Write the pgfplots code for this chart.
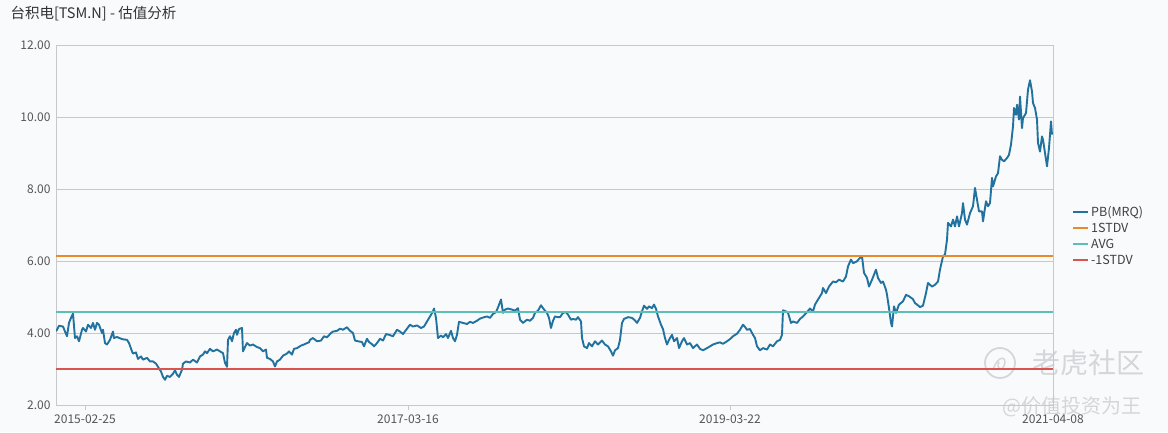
\documentclass[border=0pt]{standalone}
\usepackage{pgfplots}
\pgfplotsset{compat=1.18}
\usepackage{pgfplotstable}
\usepackage{fontspec}
\setmainfont{Noto Sans CJK SC}
\definecolor{bgc}{HTML}{F9FAFC}
\definecolor{pbc}{HTML}{21729E}
\definecolor{sdc}{HTML}{E8892C}
\definecolor{avc}{HTML}{5BBEB7}
\definecolor{msc}{HTML}{D9534F}
\definecolor{gridc}{HTML}{C8C8CC}
\definecolor{txtc}{HTML}{555555}
\definecolor{wmc}{HTML}{D4D6DA}
\pgfplotstableread{
x v
0 4.05
1 4.09
3 4.20
7 4.18
9 4.04
11 3.91
13 4.28
15 4.42
17 4.54
19 3.86
21 3.91
23 3.77
26 4.09
27 4.14
30 4.04
32 4.23
35 4.14
37 4.28
39 4.09
41 4.28
43 4.23
46 4.00
47 4.09
49 3.72
51 3.68
54 3.81
57 4.04
58 3.86
61 3.89
66 3.83
71 3.81
73 3.72
76 3.49
77 3.43
80 3.46
82 3.28
85 3.35
87 3.26
91 3.31
94 3.21
97 3.21
100 3.15
102 3.06
105 2.93
107 2.78
109 2.70
111 2.81
114 2.78
117 2.87
119 2.96
121 2.84
123 2.78
126 2.98
127 3.15
130 3.21
134 3.18
137 3.26
141 3.18
144 3.35
147 3.40
149 3.49
151 3.44
154 3.56
157 3.49
161 3.54
164 3.49
167 3.44
169 3.17
171 3.06
172 3.81
174 3.91
176 3.77
178 4.00
180 4.09
181 3.95
183 4.11
186 4.14
187 3.49
189 3.61
191 3.72
194 3.65
197 3.68
201 3.61
204 3.58
207 3.49
210 3.54
211 3.31
214 3.28
217 3.21
219 3.07
221 3.21
224 3.26
227 3.37
231 3.43
233 3.49
236 3.40
238 3.56
241 3.58
245 3.65
248 3.68
251 3.72
253 3.74
254 3.81
257 3.86
261 3.77
265 3.79
268 3.91
271 3.88
275 4.00
277 4.04
281 4.06
284 4.12
287 4.09
291 4.16
294 4.06
297 4.00
299 3.79
302 3.77
306 3.75
308 3.63
311 3.84
313 3.75
316 3.69
318 3.63
321 3.72
324 3.84
327 3.79
330 3.97
333 3.95
337 3.91
341 4.09
344 4.04
347 3.97
351 4.12
354 4.23
357 4.18
361 4.21
365 4.14
368 4.18
371 4.32
374 4.46
377 4.60
378 4.68
380 4.42
381 4.14
382 3.86
385 3.93
387 3.88
390 3.97
392 3.86
395 4.06
397 3.86
399 3.77
401 3.95
403 4.31
407 4.28
411 4.25
414 4.31
417 4.28
421 4.34
424 4.40
427 4.43
431 4.46
434 4.42
437 4.53
440 4.58
442 4.71
445 4.93
447 4.56
449 4.65
452 4.68
456 4.65
459 4.62
462 4.69
464 4.37
467 4.28
471 4.37
474 4.34
477 4.42
479 4.56
482 4.62
485 4.77
487 4.69
489 4.62
491 4.56
493 4.42
495 4.14
497 4.34
499 4.46
502 4.44
504 4.44
507 4.56
510 4.58
512 4.51
515 4.37
517 4.39
520 4.37
522 4.44
525 4.32
526 3.86
528 3.63
531 3.58
533 3.72
536 3.63
539 3.77
542 3.68
546 3.79
549 3.68
552 3.63
555 3.49
557 3.37
559 3.52
562 3.58
564 3.81
566 4.28
568 4.39
572 4.44
576 4.42
579 4.35
581 4.28
584 4.42
586 4.60
588 4.76
591 4.67
593 4.74
596 4.69
598 4.79
600 4.67
602 4.46
605 4.23
607 4.11
609 3.86
611 3.68
613 3.81
616 3.95
618 3.77
621 3.86
623 3.58
626 3.77
628 3.86
631 3.68
634 3.72
637 3.58
641 3.68
644 3.56
647 3.52
651 3.58
654 3.63
657 3.68
661 3.72
664 3.74
667 3.70
671 3.77
674 3.83
677 3.91
681 3.98
684 4.09
687 4.23
689 4.17
691 4.09
694 4.11
697 3.95
699 3.86
701 3.63
704 3.52
707 3.58
711 3.54
714 3.68
717 3.63
721 3.77
724 3.81
726 3.95
727 4.63
730 4.60
732 4.56
735 4.28
737 4.32
741 4.28
744 4.39
747 4.46
751 4.58
754 4.68
757 4.60
759 4.79
762 4.93
766 5.11
767 5.25
770 5.11
773 5.29
777 5.43
780 5.41
783 5.48
787 5.43
790 5.57
792 5.85
795 6.04
797 5.94
801 5.99
803 6.06
806 6.13
808 5.67
811 5.53
813 5.29
816 5.48
818 5.62
820 5.76
822 5.53
825 5.39
827 5.43
830 5.20
831 5.06
833 4.69
835 4.28
836 4.18
838 4.74
840 4.56
843 4.79
847 4.88
850 5.06
853 5.02
857 4.94
859 4.83
861 4.79
864 4.72
867 4.76
870 5.11
872 5.39
876 5.29
879 5.34
882 5.43
884 5.76
887 6.13
889 6.18
891 6.59
892 7.06
895 6.96
897 7.15
899 6.96
901 7.24
903 6.96
906 7.33
907 7.61
909 7.15
911 7.01
914 7.33
917 7.52
919 8.03
921 7.70
923 7.38
926 7.38
927 7.10
930 7.66
932 7.52
934 7.61
936 8.31
937 8.07
940 8.35
942 8.44
944 8.91
946 8.81
948 8.77
951 8.86
953 8.95
955 9.23
957 9.74
958 10.25
960 10.06
961 10.34
963 9.93
964 10.57
966 9.69
967 9.97
970 10.11
972 10.76
974 11.02
976 10.71
977 10.39
979 10.25
981 9.93
982 9.28
984 9.04
986 9.46
987 9.37
989 9.00
991 8.63
993 9.14
995 9.88
996 9.51
}\pbdata
\begin{document}
\begin{tikzpicture}
\fill[bgc] (0pt,0pt) rectangle (1168pt,432pt);
\useasboundingbox (0pt,0pt) rectangle (1168pt,432pt);
\node[anchor=west, text=black!80, font=\fontsize{14.5}{16}\selectfont] at (7pt,418pt) {台积电[TSM.N] - 估值分析};
% watermark
\draw[wmc, line width=1.8pt] (1000pt,69pt) circle (15pt);
\draw[wmc, line width=1.5pt] (993pt,62pt) .. controls (998pt,78pt) and (1008pt,76pt) .. (1004pt,66pt) .. controls (1001pt,60pt) and (996pt,64pt) .. (999pt,70pt);
\node[text=wmc, font=\fontsize{28}{30}\selectfont] at (1088pt,69pt) {老虎社区};
\node[text=wmc, font=\fontsize{20}{22}\selectfont] at (1072pt,25pt) {@价值投资为王};
\begin{axis}[
  at={(56pt,27pt)}, anchor=south west,
  scale only axis, width=997pt, height=360pt,
  xmin=0, xmax=997, ymin=2, ymax=12,
  axis background/.style={fill=none},
  axis line style={gridc, line width=0.8pt},
  ytick={2,4,6,8,10,12},
  yticklabels={2.00,4.00,6.00,8.00,10.00,12.00},
  ymajorgrids, grid style={gridc, line width=0.8pt},
  ytick style={draw=none},
  xtick={29,352,674,997},
  xticklabels={2015-02-25,2017-03-16,2019-03-22,2021-04-08},
  xtick pos=bottom, ytick pos=left,
  xtick align=outside, major tick length=5pt,
  xtick style={gridc, line width=0.8pt},
  tick label style={text=txtc, font=\fontsize{12}{14}\selectfont},
  yticklabel style={xshift=-2pt},
  xticklabel style={yshift=-1pt},
  /pgf/number format/assume math mode=true,
  legend style={at={(1.019,0.47)}, anchor=west, draw=none, fill=none,
    font=\fontsize{12.5}{14}\selectfont, text=black!75, row sep=1.2pt,
    inner sep=0pt},
  legend cell align=left,
  legend image code/.code={\draw[#1] (0pt,0pt) -- (15pt,0pt);},
]
\addlegendimage{pbc, line width=2pt}
\addlegendentry{PB(MRQ)}
\addlegendimage{sdc, line width=2pt}
\addlegendentry{1STDV}
\addlegendimage{avc, line width=2pt}
\addlegendentry{AVG}
\addlegendimage{msc, line width=2pt}
\addlegendentry{-1STDV}
\addplot[pbc, line width=1.9pt, line join=round, forget plot] table[x=x, y=v] {\pbdata};
\addplot[sdc, line width=2pt, forget plot] coordinates {(0,6.14) (997,6.14)};
\addplot[avc, line width=2pt, forget plot] coordinates {(0,4.58) (997,4.58)};
\addplot[msc, line width=2pt, forget plot] coordinates {(0,3.01) (997,3.01)};
\end{axis}
\end{tikzpicture}
\end{document}
